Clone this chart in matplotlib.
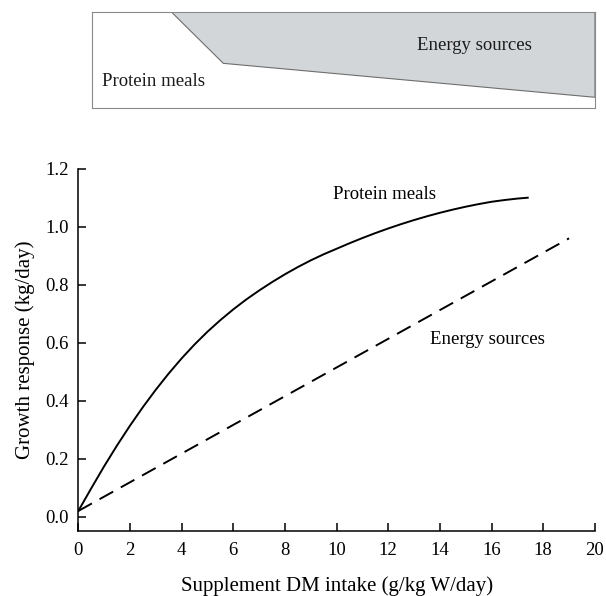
import matplotlib
matplotlib.use("Agg")
import matplotlib.pyplot as plt
from matplotlib.patches import Polygon

plt.rcParams['font.family'] = ['Liberation Serif', 'DejaVu Serif']

# Growth response data
protein_x = [0, 0.5, 1, 1.5, 2, 2.5, 3, 3.5, 4, 4.5, 5, 5.5, 6, 6.5, 7, 7.5, 8,
             8.5, 9, 9.5, 10, 10.5, 11, 11.5, 12, 12.5, 13, 13.5, 14, 14.5, 15,
             15.5, 16, 16.5, 17, 17.4]
protein_y = [0.020, 0.098, 0.174, 0.246, 0.314, 0.378, 0.438, 0.494, 0.546,
             0.594, 0.638, 0.678, 0.715, 0.749, 0.780, 0.809, 0.836, 0.861,
             0.884, 0.905, 0.924, 0.943, 0.961, 0.978, 0.994, 1.009, 1.023,
             1.036, 1.048, 1.059, 1.069, 1.078, 1.086, 1.092, 1.097, 1.100]
energy_x = [0, 19.0]
energy_y = [0.02, 0.96]

x_ticks = [0, 2, 4, 6, 8, 10, 12, 14, 16, 18, 20]
y_ticks = [0.0, 0.2, 0.4, 0.6, 0.8, 1.0, 1.2]
y_tick_labels = ["0.0", "0.2", "0.4", "0.6", "0.8", "1.0", "1.2"]

# Top panel: share of supplement-type band (axes fractions)
band_x = [0.159, 0.2615, 1.0, 1.0]
band_y = [1.0, 0.465, 0.109, 1.0]

W, H = 606, 596
fig = plt.figure(figsize=(W / 100, H / 100), dpi=100)

# ---- top panel ----
axt = fig.add_axes([91.7 / W, 1 - 107.7 / H, (595 - 91.7) / W, (107.7 - 12.3) / H])
axt.set_xlim(0, 1)
axt.set_ylim(0, 1)
axt.set_xticks([])
axt.set_yticks([])
for s in axt.spines.values():
    s.set_color('#8a8a8a')
    s.set_linewidth(0.8)
axt.add_patch(Polygon(list(zip(band_x, band_y)), closed=True,
                      facecolor='#d3d6d8', edgecolor='#6e6e6e', linewidth=0.8))
axt.text(0.646, 0.657, "Energy sources", fontsize=13.5, va='center', ha='left', color='#1a1a1a')
axt.text(0.02, 0.273, "Protein meals", fontsize=13.5, va='center', ha='left', color='#1a1a1a')

# ---- main panel ----
x0 = 78.3
ax = fig.add_axes([x0 / W, 1 - 531 / H, (594.9 - x0) / W, (531 - 168.7) / H])
ax.plot(protein_x, protein_y, color='black', lw=1.4, solid_joinstyle='round')
ax.plot(energy_x, energy_y, color='black', lw=1.4, dashes=(8, 4.5))
ax.set_xlim(0, 20)
ax.set_ylim(-0.049, 1.2)
ax.set_xticks(x_ticks)
ax.set_yticks(y_ticks)
ax.set_yticklabels(y_tick_labels)
for s in ['top', 'right']:
    ax.spines[s].set_visible(False)
for s in ['left', 'bottom']:
    ax.spines[s].set_linewidth(1.1)
ax.tick_params(axis='both', direction='in', length=6, width=1.1, labelsize=13.5)
ax.tick_params(axis='y', pad=7)
ax.tick_params(axis='x', pad=8)
ax.set_xlabel("Supplement DM intake (g/kg W/day)", fontsize=15, labelpad=12)
ax.set_ylabel("Growth response (kg/day)", fontsize=15, labelpad=7)
ax.text(9.87, 1.11, "Protein meals", fontsize=13.5, va='center', ha='left')
ax.text(13.6, 0.61, "Energy sources", fontsize=13.5, va='center', ha='left')

fig.savefig("out.png", dpi=100)
